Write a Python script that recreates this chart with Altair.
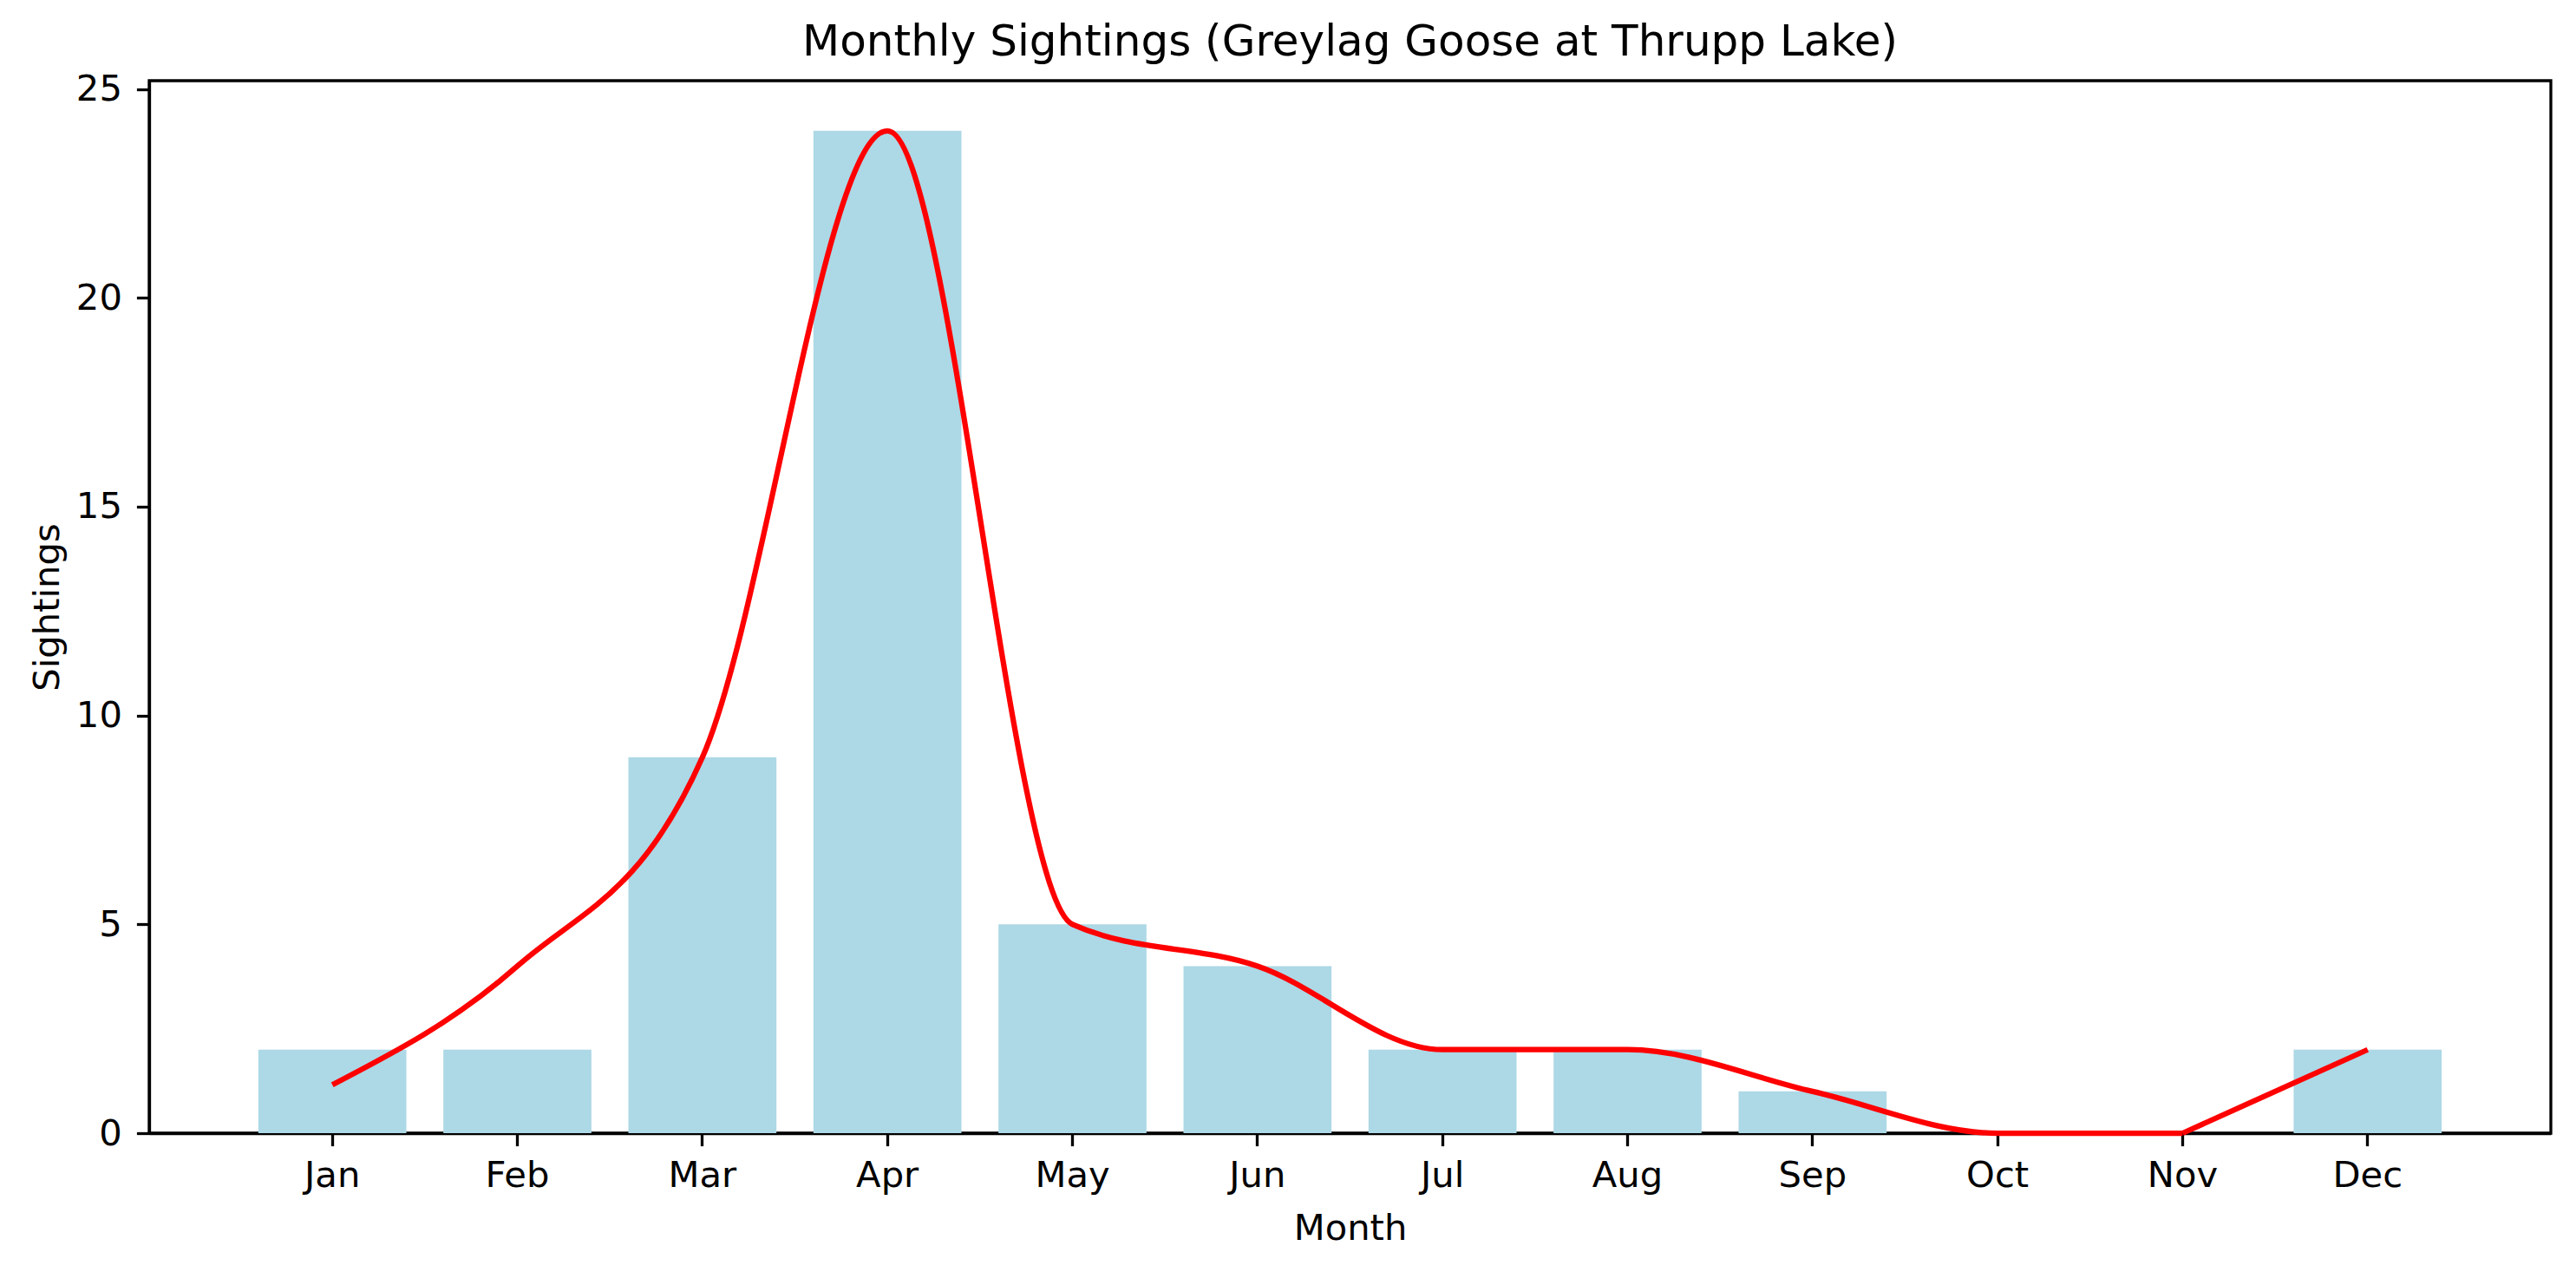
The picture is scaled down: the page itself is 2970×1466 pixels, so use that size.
import altair as alt
import pandas as pd

# Monthly sightings
months = ["Jan", "Feb", "Mar", "Apr", "May", "Jun", "Jul", "Aug", "Sep", "Oct", "Nov", "Dec"]
sightings = [2, 2, 9, 24, 5, 4, 2, 2, 1, 0, 0, 2]
# the smoothed red curve passes through these values
trend = [1.16, 4, 9, 24, 5, 4, 2, 2, 1, 0, 0, 2]

df = pd.DataFrame({"month": months, "sightings": sightings, "trend": trend})

FONT = "DejaVu Sans"
W, H = 2769, 1213

x_enc = alt.X("month:N", sort=months,
              scale=alt.Scale(paddingInner=0.2, paddingOuter=0.59),
              axis=alt.Axis(title="Month", labelAngle=0, labelPadding=14,
                            titleX=W / 2, titleY=122, titleAlign="center",
                            titleBaseline="alphabetic"))

bars = alt.Chart(df).mark_bar(color="#ADD8E6").encode(
    x=x_enc,
    y=alt.Y("sightings:Q",
            scale=alt.Scale(domain=[0, 25.2], nice=False, zero=True),
            axis=alt.Axis(title="Sightings", values=[0, 5, 10, 15, 20, 25],
                          labelPadding=17, titleAngle=270,
                          titleX=-105, titleY=H / 2, titleAlign="center",
                          titleBaseline="alphabetic"))
)

# smooth part of the curve (Jan..Nov), then a straight run Nov -> Dec
curve = alt.Chart(df).mark_line(color="red", strokeWidth=6.25, interpolate="monotone").encode(
    x=alt.X("month:N", sort=months),
    y=alt.Y("trend:Q")
).transform_filter(alt.FieldOneOfPredicate(field="month", oneOf=months[:11]))

tail = alt.Chart(df).mark_line(color="red", strokeWidth=6.25).encode(
    x=alt.X("month:N", sort=months),
    y=alt.Y("trend:Q")
).transform_filter(alt.FieldOneOfPredicate(field="month", oneOf=months[10:]))

chart = alt.layer(bars, curve, tail).properties(
    width=W,
    height=H,
    title=alt.TitleParams("Monthly Sightings (Greylag Goose at Thrupp Lake)",
                          font=FONT, fontSize=50, fontWeight="normal", color="black",
                          anchor="middle", baseline="alphabetic", offset=-31),
    autosize=alt.AutoSizeParams(type="none"),
    padding={"left": 164, "top": 85, "right": 21, "bottom": 140}
).configure_axis(
    grid=False,
    domainColor="black", domainWidth=3.3,
    tickColor="black", tickWidth=3.3, tickSize=14.6,
    labelFont=FONT, labelFontSize=41.7, labelColor="black",
    titleFont=FONT, titleFontSize=41.7, titleFontWeight="normal", titleColor="black"
).configure_view(
    stroke="black", strokeWidth=3.3
)

chart.save("out.html", embed_options={"renderer": "svg", "actions": False})
